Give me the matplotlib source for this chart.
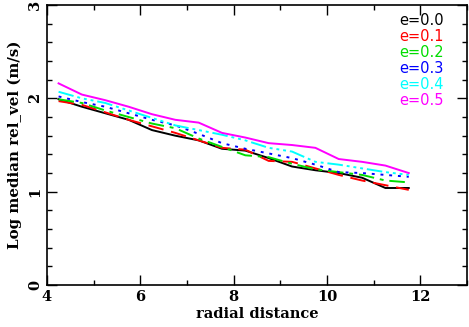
import matplotlib
matplotlib.use('Agg')
import matplotlib.pyplot as plt
from matplotlib.ticker import MultipleLocator

# radial bins
radius = [4.25, 4.75, 5.25, 5.75, 6.25, 6.75, 7.25, 7.75,
          8.25, 8.75, 9.25, 9.75, 10.25, 10.75, 11.25, 11.75]

# log median relative velocity per eccentricity
e00 = [1.99, 1.91, 1.84, 1.77, 1.66, 1.60, 1.55, 1.46,
       1.44, 1.36, 1.27, 1.23, 1.20, 1.15, 1.04, 1.04]
e01 = [1.97, 1.93, 1.85, 1.77, 1.70, 1.63, 1.55, 1.47,
       1.45, 1.33, 1.32, 1.25, 1.18, 1.12, 1.07, 1.02]
e02 = [1.99, 1.95, 1.87, 1.80, 1.73, 1.68, 1.57, 1.48,
       1.39, 1.37, 1.30, 1.24, 1.21, 1.18, 1.12, 1.10]
e03 = [2.02, 1.96, 1.91, 1.84, 1.77, 1.71, 1.62, 1.52,
       1.46, 1.41, 1.36, 1.29, 1.21, 1.20, 1.18, 1.16]
e04 = [2.07, 2.00, 1.95, 1.87, 1.79, 1.71, 1.66, 1.61,
       1.55, 1.47, 1.43, 1.32, 1.29, 1.25, 1.21, 1.18]
e05 = [2.16, 2.04, 1.98, 1.91, 1.83, 1.77, 1.74, 1.63,
       1.58, 1.52, 1.50, 1.47, 1.35, 1.32, 1.28, 1.20]

labels = ['e=0.0', 'e=0.1', 'e=0.2', 'e=0.3', 'e=0.4', 'e=0.5']
colors = ['black', 'red', '#00dd00', 'blue', 'cyan', 'magenta']
styles = ['-', (0, (8, 4)), (0, (8, 3, 2, 3)), (0, (1.5, 3)),
          (0, (8, 2, 1.5, 2, 1.5, 2, 1.5, 2)), '-']

fig = plt.figure(figsize=(4.69, 3.27), dpi=100)
ax = fig.add_axes([0.100, 0.128, 0.896, 0.857])

series = [e00, e01, e02, e03, e04, e05]
for vals, c, ls in zip(series, colors, styles):
    ax.plot(radius, vals, color=c, linestyle=ls, linewidth=1.4)

# colored legend text, top right
for i, (lab, c) in enumerate(zip(labels, colors)):
    ax.text(0.945, 0.945 - i * 0.057, lab, color=c, transform=ax.transAxes,
            ha='right', va='center', fontsize=10.5, family='DejaVu Sans',
            fontweight='medium')

ax.set_xlim(4, 13)
ax.set_ylim(0, 3)
ax.xaxis.set_major_locator(MultipleLocator(2))
ax.xaxis.set_minor_locator(MultipleLocator(1))
ax.yaxis.set_major_locator(MultipleLocator(1))
ax.yaxis.set_minor_locator(MultipleLocator(0.2))
ax.tick_params(which='both', direction='in', top=True, right=True)
ax.tick_params(which='major', length=7, width=1)
ax.tick_params(which='minor', length=3.5, width=1)
for lbl in ax.get_xticklabels() + ax.get_yticklabels():
    lbl.set_family('DejaVu Serif')
    lbl.set_fontweight('bold')
    lbl.set_fontsize(10.5)
for lbl in ax.get_yticklabels():
    lbl.set_rotation(90)
    lbl.set_va('center')
for s in ax.spines.values():
    s.set_linewidth(1.2)

ax.set_xlabel('radial distance', family='DejaVu Serif', fontweight='bold',
              fontsize=10.5, labelpad=2)
ax.set_ylabel('Log median rel_vel (m/s)', family='DejaVu Serif',
              fontweight='bold', fontsize=10.8, labelpad=4)

plt.savefig('out.png', dpi=100)
